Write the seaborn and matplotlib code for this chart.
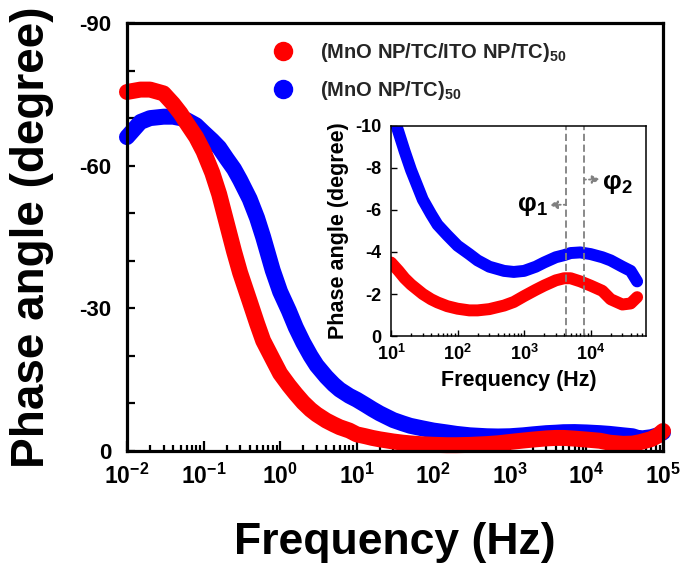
import numpy as np
import pandas as pd
import matplotlib
matplotlib.use("Agg")
import matplotlib.pyplot as plt
from matplotlib.lines import Line2D
from matplotlib.ticker import MultipleLocator, LogLocator, NullFormatter
import seaborn as sns

# ---------------- data ----------------
freq_hz = [0.01, 0.015, 0.02, 0.03, 0.04, 0.05, 0.06, 0.08, 0.1, 0.13,
           0.16, 0.2, 0.25, 0.3, 0.4, 0.5, 0.6, 0.8, 1, 1.3,
           1.6, 2, 2.5, 3, 4, 5, 6, 8, 10, 13,
           16, 20, 30, 40, 50, 70, 100, 150, 200, 300,
           500, 700, 1000, 1500, 2000, 3000, 4000, 5000, 7000, 10000,
           15000, 20000, 30000, 40000, 50000, 70000, 85000, 100000]

phase_ito = [-75.5, -76.0, -76.0, -75.2, -73.0, -71.0, -69.0, -66.0, -63.0, -58.5,
             -54.0, -48.0, -42.0, -37.5, -31.5, -26.8, -23.2, -19.3, -16.3, -13.8,
             -12.0, -10.2, -8.7, -7.7, -6.4, -5.6, -5.0, -4.3, -3.5, -3.1,
             -2.75, -2.45, -2.0, -1.75, -1.6, -1.42, -1.3, -1.22, -1.22, -1.28,
             -1.45, -1.62, -1.9, -2.2, -2.4, -2.65, -2.75, -2.75, -2.6, -2.4,
             -2.15, -1.75, -1.5, -1.55, -1.85, -2.5, -3.2, -4.2]

phase_tc = [-66.0, -69.2, -70.0, -70.3, -70.3, -70.0, -69.6, -68.5, -67.0, -65.3,
            -63.8, -61.5, -59.3, -57.0, -53.0, -49.0, -45.0, -38.0, -33.5, -29.5,
            -26.0, -22.8, -20.0, -18.0, -15.6, -14.0, -12.9, -11.6, -10.8, -9.7,
            -8.8, -7.9, -6.5, -5.8, -5.3, -4.8, -4.3, -3.9, -3.6, -3.3,
            -3.1, -3.05, -3.1, -3.3, -3.5, -3.75, -3.85, -3.95, -3.98, -3.9,
            -3.75, -3.6, -3.3, -3.1, -2.6, -2.9, -3.3, -3.9]

series_labels = [r"(MnO NP/TC/ITO NP/TC)$_{50}$", r"(MnO NP/TC)$_{50}$"]
series_colors = ["#ff0000", "#0000ff"]

main_xticks = [1e-2, 1e-1, 1e0, 1e1, 1e2, 1e3, 1e4, 1e5]
main_xticklabels = [r"$10^{-2}$", r"$10^{-1}$", r"$10^{0}$", r"$10^{1}$",
                    r"$10^{2}$", r"$10^{3}$", r"$10^{4}$", r"$10^{5}$"]
main_yticks = [0, -30, -60, -90]
main_yticklabels = ["0", "-30", "-60", "-90"]

inset_xticks = [1e1, 1e2, 1e3, 1e4]
inset_xticklabels = [r"$10^{1}$", r"$10^{2}$", r"$10^{3}$", r"$10^{4}$"]
inset_yticks = [0, -2, -4, -6, -8, -10]
inset_yticklabels = ["0", "-2", "-4", "-6", "-8", "-10"]

phi_lines_hz = [4200, 8000]
phi_labels = [r"$\varphi_1$", r"$\varphi_2$"]

# ---------------- style ----------------
sns.set_theme(style="ticks")
plt.rcParams["font.family"] = ["Liberation Sans", "DejaVu Sans"]
plt.rcParams["font.weight"] = "bold"
plt.rcParams["axes.labelweight"] = "bold"
plt.rcParams["mathtext.fontset"] = "custom"
plt.rcParams["mathtext.rm"] = "Liberation Sans:bold"
plt.rcParams["mathtext.it"] = "Liberation Sans:bold"
plt.rcParams["mathtext.bf"] = "Liberation Sans:bold"
plt.rcParams["mathtext.default"] = "rm"

df = pd.DataFrame({"freq": freq_hz, "ito": phase_ito, "tc": phase_tc})

fig = plt.figure(figsize=(6.86, 5.67), dpi=100)
ax = fig.add_axes([0.1851, 0.2046, 0.7814, 0.7548])
ax.set_xscale("log")

main_lw = 11.5
sns.lineplot(data=df, x="freq", y="tc", ax=ax, color=series_colors[1], linewidth=main_lw,
             estimator=None, sort=False, solid_capstyle="round", solid_joinstyle="round",
             clip_on=False, legend=False)
sns.lineplot(data=df, x="freq", y="ito", ax=ax, color=series_colors[0], linewidth=main_lw,
             estimator=None, sort=False, solid_capstyle="round", solid_joinstyle="round",
             clip_on=False, legend=False)

ax.set_xlim(1e-2, 1e5)
ax.set_ylim(0, -90)
ax.set_xticks(main_xticks)
ax.set_xticklabels(main_xticklabels)
ax.xaxis.set_minor_locator(LogLocator(base=10, subs=np.arange(2, 10), numticks=100))
ax.xaxis.set_minor_formatter(NullFormatter())
ax.set_yticks(main_yticks)
ax.set_yticklabels(main_yticklabels)
ax.yaxis.set_minor_locator(MultipleLocator(10))
ax.tick_params(axis="both", which="both", direction="in", colors="black", width=1.6)
ax.tick_params(axis="x", which="major", length=7, labelsize=16.5, pad=9.5)
ax.tick_params(axis="x", which="minor", length=4)
ax.tick_params(axis="y", which="both", length=6, labelsize=16, pad=11)
for s in ax.spines.values():
    s.set_linewidth(2.3)
    s.set_color("black")

ax.set_xlabel("Frequency (Hz)", fontsize=32, fontweight="bold", color="black")
ax.set_ylabel("Phase angle (degree)", fontsize=33, fontweight="bold", color="black")
ax.xaxis.set_label_coords(0.5, -0.165)
ax.yaxis.set_label_coords(-0.137, 0.5)

handles = [Line2D([], [], ls="", marker="o", markersize=14, color=c, markeredgewidth=0)
           for c in series_colors]
ax.legend(handles, series_labels, loc="upper left", bbox_to_anchor=(0.273, 0.957),
          frameon=False, fontsize=14.5, handlelength=1.0, handletextpad=1.3,
          labelspacing=0.72, borderpad=0.0, borderaxespad=0.0)

# ---------------- inset ----------------
axi = fig.add_axes([0.5700, 0.4074, 0.3717, 0.3704])
axi.set_xscale("log")
sub = df[(df["freq"] >= 10) & (df["freq"] <= 60000)]
inset_lw = 8.6
sns.lineplot(data=sub, x="freq", y="tc", ax=axi, color=series_colors[1], linewidth=inset_lw,
             estimator=None, sort=False, solid_capstyle="round", solid_joinstyle="round",
             legend=False)
sns.lineplot(data=sub, x="freq", y="ito", ax=axi, color=series_colors[0], linewidth=inset_lw,
             estimator=None, sort=False, solid_capstyle="round", solid_joinstyle="round",
             legend=False)
axi.set_xlim(10, 6.8e4)
axi.set_ylim(0, -10)
axi.set_xticks(inset_xticks)
axi.set_xticklabels(inset_xticklabels)
axi.xaxis.set_minor_locator(LogLocator(base=10, subs=np.arange(2, 10), numticks=100))
axi.xaxis.set_minor_formatter(NullFormatter())
axi.set_yticks(inset_yticks)
axi.set_yticklabels(inset_yticklabels)
axi.tick_params(axis="both", which="both", direction="in", colors="black", width=1.0)
axi.tick_params(axis="x", which="major", length=4, labelsize=13, pad=6)
axi.tick_params(axis="x", which="minor", length=2.5)
axi.tick_params(axis="y", which="major", length=4, labelsize=13, pad=7)
for s in axi.spines.values():
    s.set_linewidth(1.1)
    s.set_color("black")
axi.set_xlabel("Frequency (Hz)", fontsize=15.5, fontweight="bold", color="black", labelpad=4)
axi.set_ylabel("Phase angle (degree)", fontsize=15.5, fontweight="bold", color="black", labelpad=4)

for f in phi_lines_hz:
    axi.axvline(f, color="#808080", linestyle=(0, (4, 2)), linewidth=1.3)

axi.annotate("", xy=(2400, -6.25), xytext=(phi_lines_hz[0], -6.25),
             arrowprops=dict(arrowstyle="-|>,head_length=0.4,head_width=0.2", color="#808080",
                             linestyle=":", linewidth=1.3, shrinkA=0, shrinkB=0))
axi.text(2250, -6.2, phi_labels[0], ha="right", va="center", fontsize=19, color="black")
axi.annotate("", xy=(14000, -7.45), xytext=(phi_lines_hz[1], -7.45),
             arrowprops=dict(arrowstyle="-|>,head_length=0.4,head_width=0.2", color="#808080",
                             linestyle=":", linewidth=1.3, shrinkA=0, shrinkB=0))
axi.text(15000, -7.25, phi_labels[1], ha="left", va="center", fontsize=19, color="black")

fig.savefig("out.png", dpi=100)
